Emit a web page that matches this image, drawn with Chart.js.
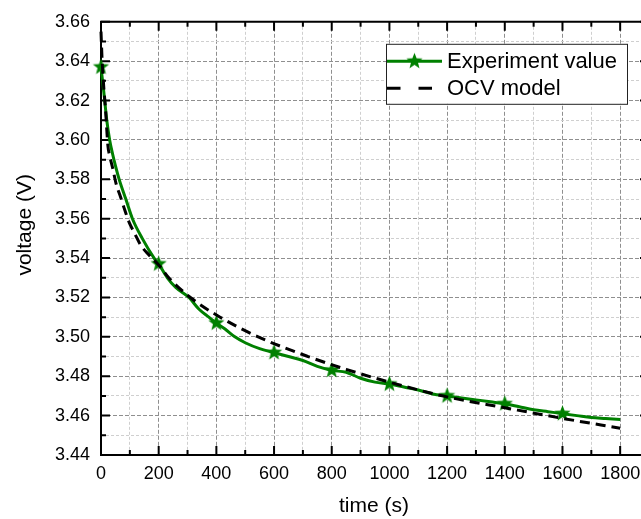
<!DOCTYPE html>
<html>
<head>
<meta charset="utf-8">
<script src="https://cdn.jsdelivr.net/npm/chart.js@4.4.1/dist/chart.umd.min.js"></script>
<style>
html,body{margin:0;padding:0;overflow:hidden;background:#fff;}
#wrap{width:660px;height:519px;position:relative;}
</style>
</head>
<body>
<div id="wrap"><canvas id="c" width="660" height="519"></canvas></div>
<script>
// ---- data ----
const seriesNames = ['Experiment value', 'OCV model'];
const axisTitles = ['time (s)', 'voltage (V)'];

const expTime = [0, 10, 20, 30, 40, 50, 63, 86, 109, 143, 184, 200, 230, 260, 305, 340, 374, 400, 430, 464, 500, 550, 600, 650, 700, 750, 800, 850, 900, 950, 1000, 1050, 1100, 1150, 1200, 1250, 1300, 1350, 1400, 1450, 1500, 1550, 1600, 1650, 1700, 1750, 1800];
const expVoltage = [3.637, 3.624, 3.610, 3.600, 3.593, 3.587, 3.580, 3.570, 3.560, 3.550, 3.540, 3.537, 3.530, 3.525, 3.520, 3.514, 3.510, 3.507, 3.504, 3.500, 3.497, 3.494, 3.492, 3.490, 3.488, 3.485, 3.483, 3.482, 3.479, 3.477, 3.476, 3.4745, 3.473, 3.471, 3.470, 3.469, 3.468, 3.467, 3.466, 3.4645, 3.463, 3.462, 3.461, 3.460, 3.459, 3.4585, 3.458];

const ocvTime = [0, 4, 10, 15, 24, 30, 40, 52, 69, 80, 98, 115, 138, 167, 200, 235, 310, 413, 545, 718, 850, 1000, 1200, 1400, 1600, 1800];
const ocvVoltage = [3.655, 3.640, 3.626, 3.617, 3.597, 3.592, 3.586, 3.578, 3.5705, 3.5655, 3.558, 3.553, 3.5465, 3.5415, 3.5365, 3.530, 3.520, 3.510, 3.500, 3.490, 3.4835, 3.477, 3.4695, 3.464, 3.4586, 3.4536];

const markerTimes = [0, 200, 400, 600, 800, 1000, 1200, 1400, 1600];

const xRange = [0, 1900];
const yRange = [3.44, 3.66];

// ---- styles ----
const GREEN = '#008000';
const FONT = "'Liberation Sans', Arial, Helvetica, sans-serif";

function makeStar(outer, inner, color) {
  const s = Math.ceil(outer * 2 + 2);
  const cv = document.createElement('canvas');
  cv.width = s; cv.height = s;
  const g = cv.getContext('2d');
  g.translate(s / 2, s / 2);
  g.beginPath();
  for (let i = 0; i < 10; i++) {
    const r = i % 2 === 0 ? outer : inner;
    const a = -Math.PI / 2 + i * Math.PI / 5;
    const px = r * Math.cos(a), py = r * Math.sin(a);
    if (i === 0) g.moveTo(px, py); else g.lineTo(px, py);
  }
  g.closePath();
  g.fillStyle = color;
  g.fill();
  return cv;
}
const starImg = makeStar(8.5, 3.6, GREEN);

function isMajorX(v) { return Math.round(v) % 200 === 0; }
function isMajorY(v) { return Math.round(v * 100) % 2 === 0; }

const framePlugin = {
  id: 'frame',
  beforeDatasetsDraw(chart) {
    const ctx = chart.ctx;
    const a = chart.chartArea;
    const xs = chart.scales.x, ys = chart.scales.y;
    ctx.save();
    ctx.strokeStyle = '#000';
    ctx.lineWidth = 2;
    ctx.lineCap = 'butt';
    // axis lines
    ctx.beginPath();
    ctx.moveTo(a.left, a.top); ctx.lineTo(a.right, a.top);
    ctx.moveTo(a.left, a.bottom); ctx.lineTo(a.right, a.bottom);
    ctx.moveTo(a.left, a.top - 1); ctx.lineTo(a.left, a.bottom + 1);
    ctx.moveTo(a.right, a.top - 1); ctx.lineTo(a.right, a.bottom + 1);
    ctx.stroke();
    // inward ticks
    ctx.beginPath();
    xs.ticks.forEach(t => {
      const px = xs.getPixelForValue(t.value);
      const len = isMajorX(t.value) ? 9 : 5;
      ctx.moveTo(px, a.bottom); ctx.lineTo(px, a.bottom - len);
      ctx.moveTo(px, a.top); ctx.lineTo(px, a.top + len);
    });
    ys.ticks.forEach(t => {
      const py = ys.getPixelForValue(t.value);
      const len = isMajorY(t.value) ? 9 : 5;
      ctx.moveTo(a.left, py); ctx.lineTo(a.left + len, py);
      ctx.moveTo(a.right, py); ctx.lineTo(a.right - len, py);
    });
    ctx.stroke();
    ctx.restore();
  },
  afterDraw(chart) {
    const ctx = chart.ctx;
    const a = chart.chartArea;
    ctx.save();
    // axis titles
    ctx.fillStyle = '#000';
    ctx.font = '21px ' + FONT;
    ctx.textAlign = 'center';
    ctx.textBaseline = 'middle';
    ctx.fillText(axisTitles[0], a.left + 273, a.bottom + 51);
    ctx.save();
    ctx.translate(a.left - 76, a.top + 203);
    ctx.rotate(-Math.PI / 2);
    ctx.fillText(axisTitles[1], 0, 0);
    ctx.restore();

    // legend
    const bx = a.left + 285, by = a.top + 22, bw = 241, bh = 60;
    ctx.fillStyle = '#fff';
    ctx.fillRect(bx, by, bw, bh);
    ctx.strokeStyle = '#222';
    ctx.lineWidth = 1;
    ctx.strokeRect(bx + 0.5, by + 0.5, bw, bh);
    const ds = chart.data.datasets;
    const rows = [by + 17.5, by + 44.5];
    // row 1: green line with star
    ctx.strokeStyle = ds[0].borderColor;
    ctx.lineWidth = 3;
    ctx.beginPath();
    ctx.moveTo(bx + 1, rows[0]); ctx.lineTo(bx + 56, rows[0]);
    ctx.stroke();
    ctx.drawImage(starImg, bx + 28.5 - starImg.width / 2, rows[0] - starImg.height / 2);
    // row 2: dashed black
    ctx.strokeStyle = ds[1].borderColor;
    ctx.setLineDash([13.5, 18]);
    ctx.beginPath();
    ctx.moveTo(bx + 1, rows[1]); ctx.lineTo(bx + 47, rows[1]);
    ctx.stroke();
    ctx.setLineDash([]);
    ctx.fillStyle = '#000';
    ctx.font = '22px ' + FONT;
    ctx.textAlign = 'left';
    ctx.textBaseline = 'middle';
    ctx.fillText(ds[0].label, bx + 61, rows[0] + 1);
    ctx.fillText(ds[1].label, bx + 61, rows[1] + 1);
    ctx.restore();
  }
};

const chart = new Chart(document.getElementById('c'), {
  type: 'line',
  data: {
    datasets: [
      {
        label: seriesNames[0],
        data: expTime.map((t, i) => ({ x: t, y: expVoltage[i] })),
        borderColor: GREEN,
        backgroundColor: GREEN,
        borderWidth: 3,
        cubicInterpolationMode: 'monotone',
        pointStyle: starImg,
        pointRadius: (c) => (c.raw && markerTimes.includes(c.raw.x)) ? 8 : 0,
        pointHoverRadius: 0,
        fill: false,
        clip: false,
        order: 2
      },
      {
        label: seriesNames[1],
        data: ocvTime.map((t, i) => ({ x: t, y: ocvVoltage[i] })),
        borderColor: '#000000',
        borderWidth: 3,
        borderDash: [10, 6],
        cubicInterpolationMode: 'monotone',
        pointRadius: 0,
        pointHoverRadius: 0,
        fill: false,
        clip: false,
        order: 1
      }
    ]
  },
  options: {
    responsive: false,
    animation: false,
    events: [],
    layout: { padding: { left: 0, top: 16, right: 7, bottom: 0 } },
    plugins: { legend: { display: false }, tooltip: { enabled: false }, title: { display: false } },
    scales: {
      x: {
        type: 'linear',
        min: xRange[0], max: xRange[1],
        afterFit: (s) => { s.height = 64; },
        ticks: {
          stepSize: 100,
          autoSkip: false,
          maxRotation: 0,
          padding: 8,
          color: '#000',
          font: { family: FONT, size: 18 },
          callback: (v) => (isMajorX(v) && v <= 1800) ? String(v) : ''
        },
        grid: {
          drawTicks: false,
          lineWidth: 1,
          color: (c) => isMajorX(c.tick.value) ? '#8f8f8f' : '#cfcfcf'
        },
        border: {
          display: false,
          dash: (c) => isMajorX(c.tick.value) ? [4, 2] : [3, 2]
        }
      },
      y: {
        type: 'linear',
        min: yRange[0], max: yRange[1],
        afterFit: (s) => { s.width = 101; },
        ticks: {
          stepSize: 0.01,
          autoSkip: false,
          padding: 11,
          color: '#000',
          font: { family: FONT, size: 18 },
          callback: (v) => isMajorY(v) ? v.toFixed(2) : ''
        },
        grid: {
          drawTicks: false,
          lineWidth: 1,
          color: (c) => isMajorY(c.tick.value) ? '#8f8f8f' : '#cfcfcf'
        },
        border: {
          display: false,
          dash: (c) => isMajorY(c.tick.value) ? [4, 2] : [3, 2]
        }
      }
    }
  },
  plugins: [framePlugin]
});
</script>
</body>
</html>
